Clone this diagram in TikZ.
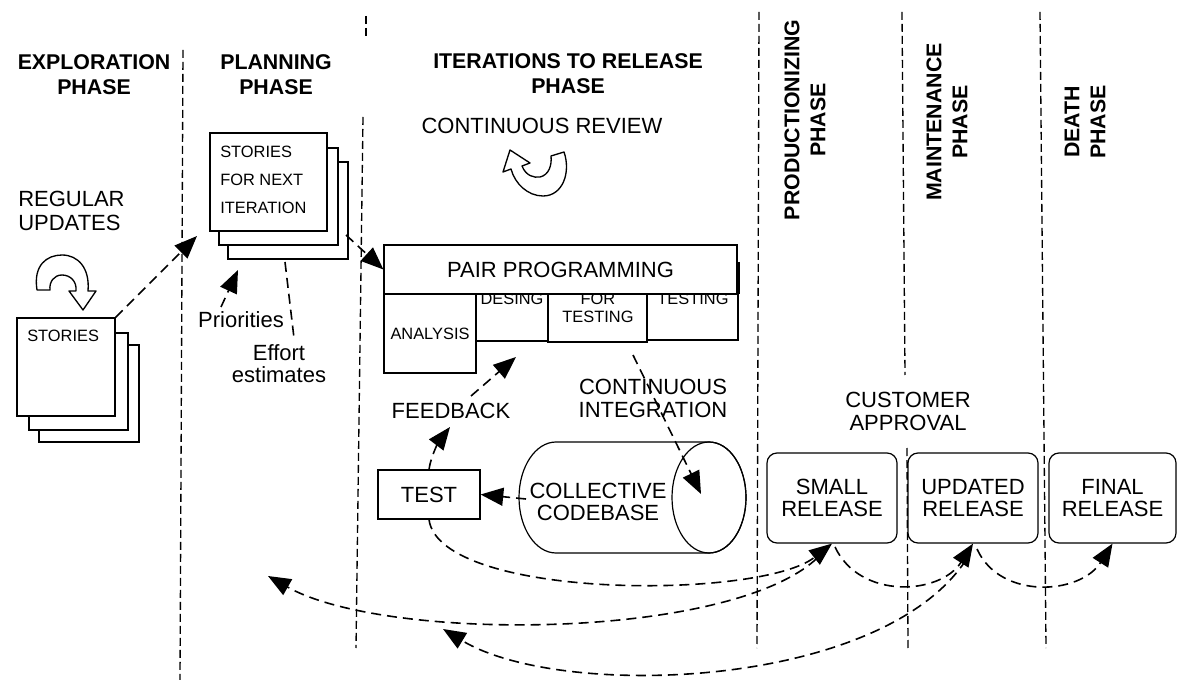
\documentclass[tikz,border=0pt]{standalone}
\usepackage{fontspec}
\setmainfont{Liberation Sans}
\usetikzlibrary{arrows.meta}
\begin{document}
\begin{tikzpicture}[x=0.75pt,y=-0.75pt,
  box/.style={draw, line width=0.9pt, fill=white, inner sep=0pt},
  lbl/.style={font=\fontsize{16.5}{17}\selectfont, inner sep=0pt, align=center},
  sml/.style={font=\fontsize{12.3}{14}\selectfont, inner sep=0pt, align=center},
  head/.style={font=\bfseries\fontsize{16}{18.75}\selectfont, inner sep=0pt, align=center},
  vhead/.style={inner sep=0pt, align=center, rotate=90, font=\bfseries\fontsize{16}{19.5}\selectfont},
  phaseline/.style={line width=1pt, dash pattern=on 6pt off 3pt},
  dl/.style={line width=1.2pt, dash pattern=on 7.5pt off 4.5pt},
  arr/.style={dl, -{Triangle[length=17pt,width=13.5pt]}},
  rel/.style={box, rounded corners=7.5pt, minimum height=67.5pt, align=center, font=\fontsize{16.5}{16.5}\selectfont},
  curl/.style={draw, line width=1pt, fill=white, line join=round}
]
\useasboundingbox (0,0) rectangle (1177,680);

% phase separators
\draw[phaseline] (183,50) -- (180,680);
\draw[phaseline] (366,16) -- (366,38);
\draw[phaseline] (363,117) -- (356,648);
\draw[phaseline] (759,12) -- (757,648);
\draw[phaseline] (902,12) -- (905,375);
\draw[phaseline] (907,448) -- (908,648);
\draw[phaseline] (1040,12) -- (1046,648);

% headings
\node[head] (hExp) at (94,74.5) {EXPLORATION\\PHASE};
\node[head] (hPlan) at (276,74.5) {PLANNING\\PHASE};
\node[head] (hIter) at (568,74) {ITERATIONS TO RELEASE\\PHASE};
\node[vhead] (hProd) at (805,120) {PRODUCTIONIZING\\PHASE};
\node[vhead] (hMaint) at (947,122) {MAINTENANCE\\PHASE};
\node[vhead] (hDeath) at (1085,122) {DEATH\\PHASE};

% exploration
\node[lbl, anchor=west, align=left, font=\fontsize{16.5}{18}\selectfont] (regu) at (18,211) {REGULAR\\UPDATES};
\draw[curl] (37,290) .. controls (33,265) and (47,255) .. (62,255)
  .. controls (78,255) and (90,268) .. (88,291) -- (96,291) -- (83,310) -- (69,291) -- (76,291)
  .. controls (77,281) and (70,275) .. (62,275) .. controls (54,275) and (49,282) .. (50,290) -- cycle;
\node[box, minimum width=75pt, minimum height=72.75pt] (st3) at (89,393.5) {};
\node[box, minimum width=74.25pt, minimum height=72.75pt] (st2) at (78.5,381.5) {};
\node[box, minimum width=73.5pt, minimum height=73.5pt] (st1) at (66,367) {};
\node[sml, anchor=west] (stl) at (27,336) {STORIES};

% planning
\node[box, minimum width=90pt, minimum height=72.75pt] (sn3) at (288,210.5) {};
\node[box, minimum width=89.25pt, minimum height=72.75pt] (sn2) at (278.5,196.5) {};
\node[box, minimum width=87.75pt, minimum height=73.5pt] (sn1) at (268.5,182) {};
\node[sml, anchor=west, align=left, font=\fontsize{12.3}{21}\selectfont] (snl) at (220,180) {STORIES\\FOR NEXT\\ITERATION};
\node[lbl] (prio) at (241,320) {Priorities};
\node[lbl] (eff) at (279,363.5) {Effort\\estimates};

% iterations
\node[lbl] (crev) at (542,126) {CONTINUOUS REVIEW};
\draw[curl] (564,152) .. controls (571,172) and (563,196) .. (543,196)
  .. controls (528,196) and (515,184) .. (511,169) -- (503,172) -- (510,150) -- (530,163) -- (522,166)
  .. controls (526,176) and (534,178) .. (540,177) .. controls (549,175) and (552,165) .. (551,156) -- cycle;

\node[box, sml, minimum width=69pt, minimum height=59.25pt] (ana) at (430,333.5) {ANALYSIS};
\node[box, minimum width=54pt, minimum height=35.25pt] (des) at (512,317.5) {};
\node[box, minimum width=74.25pt, minimum height=36pt] (fort) at (597.5,318) {};
\node[box, minimum width=68.25pt, minimum height=34.5pt] (tst) at (692.5,317) {};
\node[sml] (desl) at (512,299) {DESING};
\node[sml, font=\fontsize{12.3}{13.5}\selectfont] (fortl) at (598,308.3) {FOR\\TESTING};
\node[sml] (tstl) at (693,299) {TESTING};
\node[box, lbl, minimum width=264.75pt, minimum height=36.75pt] (pair) at (560.5,269.5) {PAIR PROGRAMMING};
\draw[line width=1.5pt] (739,262) -- (739,294);

\node[box, lbl, minimum width=76.5pt, minimum height=36.75pt] (test) at (429,494.5) {TEST};
\draw[line width=0.9pt, fill=white] (556,442) -- (709,442)
  arc[start angle=-90, end angle=90, x radius=37, y radius=55.5] -- (556,553)
  arc[start angle=90, end angle=270, x radius=37, y radius=55.5] -- cycle;
\draw[line width=0.9pt] (709,497.5) ellipse [x radius=37, y radius=55.5];
\node[lbl] (cyl) at (598,502) {COLLECTIVE\\CODEBASE};
\node[lbl] (fb) at (451,411) {FEEDBACK};
\node[lbl] (ci) at (653,398.5) {CONTINUOUS\\INTEGRATION};
\node[lbl] (cust) at (908,411.5) {CUSTOMER\\APPROVAL};

% releases
\node[rel, minimum width=97.5pt] (small) at (832,498) {SMALL\\RELEASE};
\node[rel, minimum width=97.5pt] (upd) at (973,498) {UPDATED\\RELEASE};
\node[rel, minimum width=95.25pt] (fin) at (1112.5,498) {FINAL\\RELEASE};

% connector end points
\coordinate (c1) at (197,236);
\coordinate (prioA) at (221,307);
\coordinate (prioB) at (238,270);
\coordinate (effA) at (285,262);
\coordinate (effB) at (294,338);
\coordinate (snA) at (346,235);
\coordinate (fbA) at (450,427);
\coordinate (fbB) at (471,396);
\coordinate (fbC) at (516,357);
\coordinate (ciA) at (633,355);
\coordinate (ciB) at (701,494);
\coordinate (cylW) at (526,499);
\coordinate (smallOut) at (827,547);
\coordinate (planB) at (268,576);
\coordinate (s2u) at (835,547);
\coordinate (u2f) at (977,549);
\coordinate (updOut) at (966,560);
\coordinate (planC) at (443,629);

% connectors
\draw[arr] (st1.north east) -- (c1);
\draw[arr] (prioA) -- (prioB);
\draw[dl] (effA) -- (effB);
\draw[arr] (snA) -- (pair.west);
\draw[arr] (test.north) .. controls (431,455) and (440,440) .. (fbA);
\draw[arr] (fbB) -- (fbC);
\draw[arr] (ciA) -- (ciB);
\draw[arr] (cylW) -- (test.east);
\draw[arr] (test.south) .. controls (440,600) and (760,600) .. (small.south);
\draw[arr] (smallOut) .. controls (760,640) and (390,645) .. (planB);
\draw[arr] (s2u) .. controls (860,600) and (940,595) .. (upd.south);
\draw[arr] (u2f) .. controls (1000,600) and (1080,595) .. (fin.south);
\draw[arr] (updOut) .. controls (880,690) and (560,700) .. (planC);
\end{tikzpicture}
\end{document}
